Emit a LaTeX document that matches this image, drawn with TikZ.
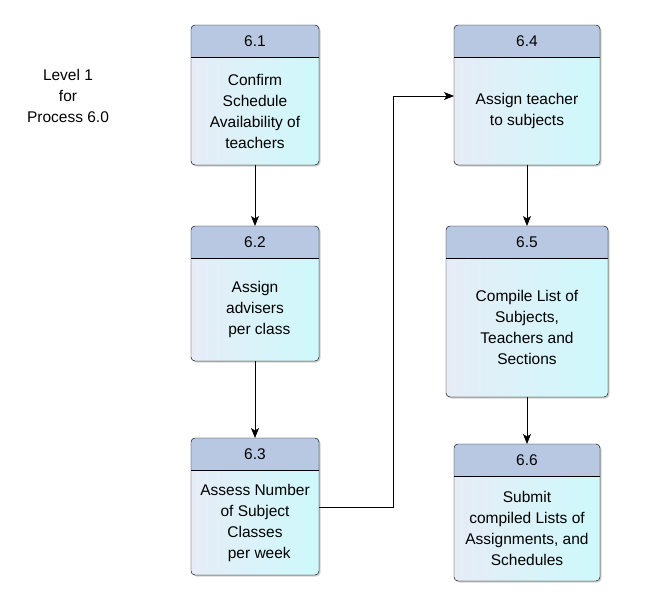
\documentclass[tikz,border=0pt]{standalone}
\usepackage{fontspec}
\setmainfont{Liberation Sans}
\usetikzlibrary{arrows.meta, positioning, shadows, backgrounds}

\definecolor{headblue}{HTML}{B8C8E2}
\definecolor{bodyleft}{HTML}{E6ECF6}
\definecolor{bodyright}{HTML}{CDF9FC}

\begin{document}
\begin{tikzpicture}[x=1pt,y=1pt,>={Stealth[length=10pt,width=8pt,inset=2.5pt]},line width=0.9pt,
      every node/.style={font=\fontsize{15.5}{21}\selectfont},
      head node/.style={minimum height=32pt,inner sep=0pt,outer sep=0pt},
      main node/.style={inner sep=0pt,outer sep=0pt,align=center},
      box shade/.style={left color=bodyleft,right color=bodyright,rounded corners=4pt,
        drop shadow={shadow xshift=1.5pt,shadow yshift=-1.5pt,opacity=0.35}},
      flow/.style={->}]

      \useasboundingbox (0,0) rectangle (649,-613);

      \node[align=center] (lvl) at (68,-96) {Level 1\\for\\Process 6.0};

      \node[head node,minimum width=128pt] (h1) at (255,-41) {6.1};
      \node[main node,minimum width=128pt,minimum height=108pt] (p1) [below=0pt of h1] {Confirm\\Schedule\\Availability of\\teachers};
      \node[head node,minimum width=128pt] (h2) [below=61pt of p1] {6.2};
      \node[main node,minimum width=128pt,minimum height=103pt] (p2) [below=0pt of h2] {Assign\\advisers\\\ \ per class};
      \node[head node,minimum width=128pt] (h3) [below=77pt of p2] {6.3};
      \node[main node,minimum width=128pt,minimum height=105pt] (p3) [below=0pt of h3] {Assess Number\\of Subject\\Classes\\\ \ per week};

      \node[head node,minimum width=146pt] (h4) at (527,-41) {6.4};
      \node[main node,minimum width=146pt,minimum height=108pt] (p4) [below=0pt of h4] {Assign teacher\\to subjects};
      \node[head node,minimum width=162pt] (h5) [below=61pt of p4] {6.5};
      \node[main node,minimum width=162pt,minimum height=139pt] (p5) [below=0pt of h5] {Compile List of\\Subjects,\\Teachers and\\Sections};
      \node[head node,minimum width=146pt] (h6) [below=47pt of p5] {6.6};
      \node[main node,minimum width=146pt,minimum height=105pt] (p6) [below=0pt of h6] {Submit\\compiled Lists of\\Assignments, and\\Schedules};

      \begin{scope}[on background layer]
      \foreach \n in {1,...,6} {
          \fill[box shade] (h\n.north west) rectangle (p\n.south east);
          \fill[headblue,rounded corners=4pt] (h\n.south west) |- (h\n.north east) -- (h\n.south east);
          \draw[rounded corners=4pt] (h\n.north west) rectangle (p\n.south east);
          \draw (h\n.south west) -- (h\n.south east);}
      \end{scope}

      \foreach \s/\t in {p1/h2, p2/h3, p4/h5, p5/h6} {
          \draw[flow] (\s) -- (\t);}
      \draw[flow] ([yshift=15pt]p3.east) -- ++(74,0) |- ([yshift=15pt]p4.west);
      \end{tikzpicture}
\end{document}
